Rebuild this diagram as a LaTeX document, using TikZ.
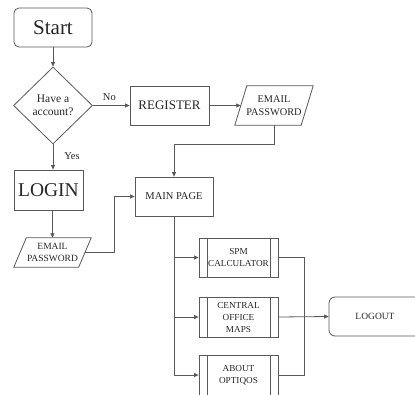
\documentclass[tikz,border=0pt]{standalone}
\usepackage{fontspec}
\setmainfont{Liberation Serif}
\usetikzlibrary{shapes.geometric,arrows.meta,calc}
\tikzset{
  ln/.style={draw=black!65, line width=0.8pt},
  arr/.style={ln, -{Triangle[length=4.5pt,width=4pt]}},
  box/.style={rectangle, draw=black!65, line width=0.8pt, text=black!85, inner sep=0pt, align=center},
  rbox/.style={box, rounded corners=5pt},
  iobox/.style={rectangle, inner sep=0pt, text=black!85, align=center, font=\fontsize{9.5}{12}\selectfont},
  proc/.style={box, minimum width=79pt, minimum height=39pt, font=\fontsize{9.2}{12}\selectfont},
  lbl/.style={text=black!85, font=\fontsize{10.5}{12}\selectfont, inner sep=0pt}
}
\newcommand{\paral}[2]{%
  \draw[ln] ($(#1.north west)+(#2,0)$) -- ($(#1.north east)+(#2,0)$) -- ($(#1.south east)-(#2,0)$) -- ($(#1.south west)-(#2,0)$) -- cycle;}
\newcommand{\predef}[1]{%
  \draw[ln] ($(#1.north west)+(8.5,0)$) -- ($(#1.south west)+(8.5,0)$);
  \draw[ln] ($(#1.north east)-(8.5,0)$) -- ($(#1.south east)-(8.5,0)$);}
\begin{document}
\begin{tikzpicture}[x=1pt,y=-1pt]
\useasboundingbox (0,0) rectangle (415,394);
\clip (0,0) rectangle (415,394);
\fill[white] (0,0) rectangle (415,394);

\node[rbox, minimum width=78pt, minimum height=39pt, font=\fontsize{21}{24}\selectfont] (start) at (53,27.5) {Start};
\node[diamond, draw=black!65, line width=0.8pt, text=black!85, inner sep=0pt, minimum width=79pt, minimum height=77pt, align=center, font=\fontsize{11.5}{13}\selectfont] (dia) at (53,105.5) {Have a\\account?};
\node[box, minimum width=79pt, minimum height=39pt, font=\fontsize{13}{15}\selectfont] (register) at (169.5,105.5) {REGISTER};
\node[iobox, minimum width=66pt, minimum height=39pt, font=\fontsize{10.3}{12.5}\selectfont] (email1) at (274,105.5) {EMAIL\\PASSWORD};
\paral{email1}{6}
\node[box, minimum width=69pt, minimum height=40pt, font=\fontsize{19.5}{22}\selectfont] (login) at (48.5,190) {LOGIN};
\node[iobox, minimum width=64.5pt, minimum height=29pt] (email2) at (52.5,252.5) {EMAIL\\PASSWORD};
\paral{email2}{6.25}
\node[box, minimum width=78pt, minimum height=39pt, font=\fontsize{10.5}{12}\selectfont] (main) at (174,196.5) {MAIN PAGE};
\node[proc] (spm) at (238.5,257.5) {SPM\\CALCULATOR};
\predef{spm}
\node[proc, minimum height=40pt] (central) at (238.5,317) {CENTRAL\\OFFICE\\MAPS};
\predef{central}
\node[proc, minimum height=40pt] (about) at (238.5,375) {ABOUT\\OPTIQOS};
\predef{about}
\node[rbox, rounded corners=6pt, minimum width=92pt, minimum height=39pt, font=\fontsize{9.5}{12}\selectfont] (logout) at (375,316.5) {LOGOUT};

\draw[arr] (start.south) -- (dia.north);
\draw[arr] (dia.east) -- node[lbl, pos=0.45, above=5pt] {No} (register.west);
\draw[arr] (register.east) -- (email1.west);
\draw[arr] (email1.south) -- ++(0,19) -| (main.north);
\draw[arr] (dia.south) -- node[lbl, pos=0.45, right=11pt] {Yes} (dia.south |- login.north);
\draw[arr] (login.south -| email2.north) -- (email2.north);
\draw[arr] (email2.east) -- ++(29,0) |- (main.west);
\draw[arr] (main.south) |- (about.west);
\draw[arr] (main.south |- spm.west) -- (spm.west);
\draw[arr] (main.south |- central.west) -- (central.west);
\draw[ln] (spm.east) -- ++(26,0) |- (about.east);
\draw[arr] (central.east) -- (logout.west);
\end{tikzpicture}
\end{document}
